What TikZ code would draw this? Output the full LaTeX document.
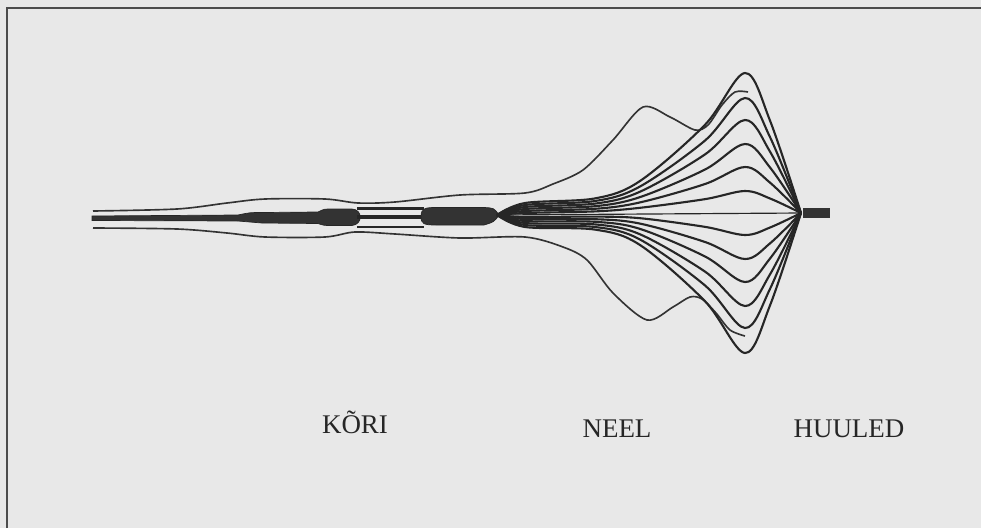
\documentclass[tikz,border=0pt]{standalone}
\usepackage{fontspec}
\setmainfont{Liberation Serif}
\begin{document}
\begin{tikzpicture}[x=0.03cm, y=-0.03cm,
    wave/.style={black!85, line width=1.8pt, line join=round},
    contour/.style={black!80, line width=1.4pt},
    tube/.style={fill=black!80, draw=black!85, line width=0.6pt},
    label/.style={anchor=base, text=black!85, font=\fontsize{23}{27}\selectfont}]
        % 1. Paper and frame
        \fill[black!9] (0,0) rectangle (981,528);
        \useasboundingbox (0,0) rectangle (981,528);
        \draw[black!70, line width=2pt] (7,528) -- (7,8) -- (981,8);
        
        % 2. Larynx tube with the two thick parts
        \fill[tube] (92,216) -- (238,215) .. controls (250,212.5) .. (262,212.5)
            -- (318,212) .. controls (324,209) .. (332,209) -- (352,209)
            .. controls (363,209.5) and (363,224.5) .. (352,225.5) -- (332,225.5)
            .. controls (324,225.5) .. (318,223.5) -- (262,223)
            .. controls (250,222.5) .. (238,221) -- (92,220.5) -- cycle;
        \draw[black!85, line width=2pt] (357,208.5) -- (424,208.5);
        \draw[black!85, line width=3pt] (357,217) -- (424,217);
        \draw[black!85, line width=2pt] (357,227) -- (424,227);
        \fill[tube] (421,216.5) .. controls (421,208) and (426,207.5) .. (436,207.5)
            -- (484,207.5) .. controls (494,208) .. (499,215)
            .. controls (494,222) .. (484,225) -- (436,225)
            .. controls (424,225) and (421,224) .. cycle;
        
        % 3. Outer contour of the tract
        \draw[contour] plot[smooth, tension=0.5] coordinates {(93,211) (177,209) (227,203)
            (265,199) (325,199) (358,203) (395,202) (460,195) (525,193) (553,184) (583,170)
            (613,140) (643,107) (670,117) (695,130) (708,125) (722,105) (735,92) (748,92)};
        \draw[contour] plot[smooth, tension=0.5] coordinates {(93,228) (177,229) (227,233)
            (265,237) (325,237) (355,232) (395,234) (460,238) (525,237) (563,247) (587,260)
            (613,293) (647,320) (673,307) (690,297) (702,299) (716,313) (730,330) (745,336)};
        
        % 4. Pharynx lines fanning out to the lips
        \draw[wave, line width=1pt] (497,215) -- (801,213);
        \foreach \k/\A in {1/22, 2/46, 3/69, 4/93, 5/115, 6/140} {
            \foreach \s in {1,-1} {
                \draw[wave] plot[smooth, tension=0.55] coordinates {(497,215)
                    (525,{215-(\s)*2*\k}) (595,{214-(\s)*2.6*\k})
                    (640,{213-(\s)*(3*\k+0.1*\A)}) (705,{213-(\s)*0.63*\A})
                    (745,{213-(\s)*\A}) (770,{213-(\s)*0.66*\A}) (801,213)};
            }
        }
        \fill[black!80] (803,208) rectangle (830,218);
        
        % 5. Labels
        \node[label] (kori) at (355,433) {KÕRI};
        \node[label] (neel) at (617,437) {NEEL};
        \node[label] (huuled) at (849,437) {HUULED};
    \end{tikzpicture}
\end{document}
